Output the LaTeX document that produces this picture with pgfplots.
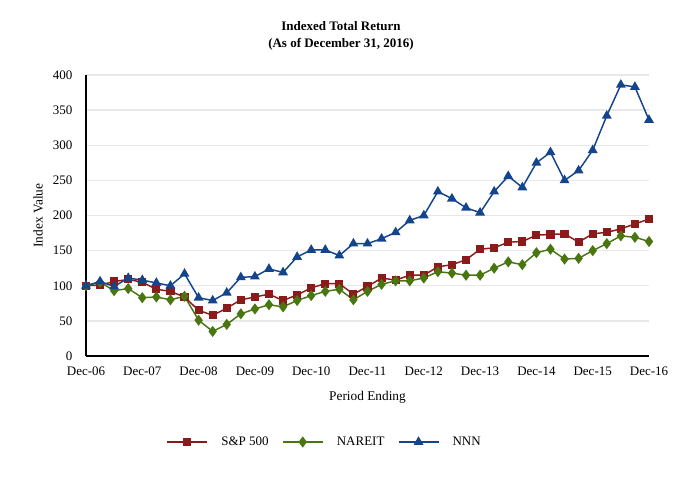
\documentclass[border=0pt]{standalone}
\usepackage{pgfplots}
\pgfplotsset{compat=1.18}
\usepackage{fontspec}
\setmainfont{Liberation Serif}

\definecolor{spcol}{RGB}{139,26,26}
\definecolor{narcol}{RGB}{74,118,18}
\definecolor{nnncol}{RGB}{20,68,140}
\newcommand{\fsz}{\fontsize{9.75}{12}\selectfont}

\begin{document}
\begin{tikzpicture}
\path[use as bounding box] (0,0) rectangle (511.5pt,360pt);
\node[align=center, font=\fsz\bfseries, inner sep=0pt] at (255.75pt,333pt)
  {Indexed Total Return\\[0.5pt](As of December 31, 2016)};
\begin{axis}[
    at={(64.5pt,93pt)}, anchor=south west,
    scale only axis,
    width=422.25pt, height=210.75pt,
    xmin=0, xmax=40, ymin=0, ymax=400,
    axis x line*=bottom, axis y line*=left,
    axis line style={-, black, line width=1.3pt},
    xtick={0,4,...,40},
    xticklabels={Dec-06,Dec-07,Dec-08,Dec-09,Dec-10,Dec-11,Dec-12,Dec-13,Dec-14,Dec-15,Dec-16},
    ytick={0,50,...,400},
    major tick length=0pt,
    ymajorgrids,
    grid style={black!9, line width=1pt},
    /pgf/number format/assume math mode=true,
    tick label style={font=\fsz},
    xticklabel style={inner sep=0pt, anchor=north, yshift=-8pt},
    yticklabel style={inner sep=0pt, anchor=east, xshift=-10pt},
    xlabel={Period Ending}, ylabel={Index Value},
    label style={font=\fsz},
    every axis x label/.style={at={(axis description cs:0.5,-0.146)}, anchor=center},
    every axis y label/.style={at={(axis description cs:-0.085,0.5)}, anchor=center, rotate=90},
    legend columns=3,
    legend style={at={(axis description cs:0.4245,-0.306)}, anchor=center, draw=none,
      font=\fsz, column sep=8pt, inner sep=0pt},
    legend image code/.code={
      \draw[mark repeat=2, mark phase=2] plot coordinates {(0pt,0pt) (15pt,0pt) (30pt,0pt)};},
]
\addplot[spcol, line width=1.1pt, mark=square*, mark size=2.5pt, mark options={solid}]
  coordinates {
  (0,100) (1,101) (2,106) (3,109) (4,105) (5,95) (6,92) (7,84) (8,65) (9,58)
  (10,68) (11,80) (12,84) (13,88) (14,79) (15,87) (16,97) (17,103) (18,103) (19,88)
  (20,99) (21,111) (22,108) (23,115) (24,115) (25,127) (26,130) (27,137) (28,152) (29,154)
  (30,162) (31,163) (32,172) (33,173) (34,174) (35,162) (36,174) (37,176) (38,181) (39,188)
  (40,195)};
\addlegendentry{S\&P 500}
\addplot[narcol, line width=1.1pt, mark=diamond*, mark size=3.3pt, mark options={solid}]
  coordinates {
  (0,100) (1,105) (2,93) (3,96) (4,83) (5,84) (6,80) (7,85) (8,51) (9,35)
  (10,45) (11,60) (12,67) (13,73) (14,70) (15,79) (16,86) (17,92) (18,95) (19,80)
  (20,92) (21,102) (22,107) (23,107) (24,111) (25,120) (26,118) (27,115) (28,115) (29,125)
  (30,134) (31,130) (32,147) (33,152) (34,138) (35,139) (36,150) (37,160) (38,171) (39,169)
  (40,163)};
\addlegendentry{NAREIT}
\addplot[nnncol, line width=1.1pt, mark=triangle*, mark size=3.2pt, mark options={solid}]
  coordinates {
  (0,100) (1,106) (2,99) (3,111) (4,108) (5,104) (6,100) (7,117) (8,83) (9,79)
  (10,90) (11,112) (12,113) (13,124) (14,119) (15,141) (16,151) (17,151) (18,143) (19,160)
  (20,160) (21,167) (22,176) (23,193) (24,200) (25,234) (26,224) (27,211) (28,204) (29,234)
  (30,256) (31,240) (32,275) (33,290) (34,250) (35,264) (36,293) (37,342) (38,386) (39,383)
  (40,336)};
\addlegendentry{NNN}
\end{axis}
\end{tikzpicture}
\end{document}
